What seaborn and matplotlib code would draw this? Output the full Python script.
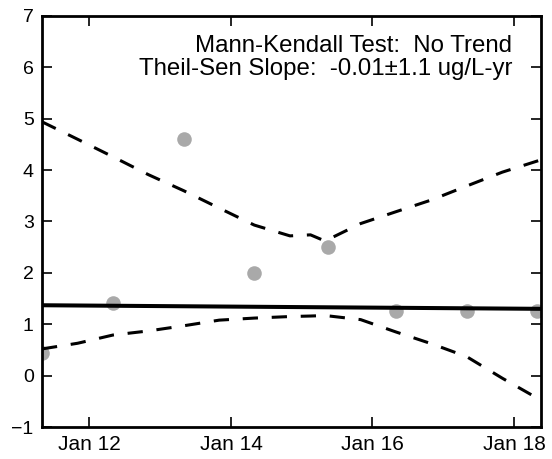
import pandas as pd
import matplotlib.pyplot as plt
import matplotlib.dates as mdates
import seaborn as sns

# Data
sample_dates = ['2011-05-01', '2012-05-01', '2013-05-01', '2014-05-01',
                '2015-05-15', '2016-05-01', '2017-05-01', '2018-05-01']
conc = [0.45, 1.41, 4.60, 2.00, 2.50, 1.25, 1.25, 1.25]

trend_dates = ['2011-05-01', '2018-05-20']
trend_vals = [1.37, 1.30]

band_dates = ['2011-05-01', '2011-11-01', '2012-05-01', '2012-11-01', '2013-05-01',
              '2013-11-01', '2014-05-01', '2014-11-01', '2015-02-15', '2015-05-01',
              '2015-11-01', '2016-05-01', '2016-11-01', '2017-05-01', '2017-11-01',
              '2018-05-20']
upper = [4.94, 4.60, 4.26, 3.91, 3.60, 3.26, 2.93, 2.72, 2.74, 2.62,
         2.96, 3.19, 3.42, 3.69, 3.96, 4.20]
lower = [0.52, 0.63, 0.79, 0.87, 0.97, 1.08, 1.12, 1.15, 1.16, 1.17,
         1.09, 0.85, 0.62, 0.37, -0.05, -0.48]

df = pd.DataFrame({'date': pd.to_datetime(sample_dates), 'conc': conc})
df_trend = pd.DataFrame({'date': pd.to_datetime(trend_dates), 'val': trend_vals})
df_band = pd.DataFrame({'date': pd.to_datetime(band_dates), 'upper': upper, 'lower': lower})

sns.set_style("ticks", {'axes.edgecolor': 'black', 'xtick.color': 'black',
                        'ytick.color': 'black', 'text.color': 'black'})
plt.rcParams['font.family'] = ['Liberation Sans', 'DejaVu Sans']

fig = plt.figure(figsize=(5.52, 4.59), dpi=100)
ax = fig.add_axes([0.0761, 0.0697, 0.904, 0.8955])

sns.scatterplot(data=df, x='date', y='conc', color='#a9a9a9', s=110,
                linewidth=0, ax=ax, zorder=2)
sns.lineplot(data=df_trend, x='date', y='val', color='black', linewidth=2.9, ax=ax, zorder=3)
for col in ['upper', 'lower']:
    sns.lineplot(data=df_band, x='date', y=col, color='black', linewidth=2.2,
                 linestyle=(0, (5, 4.5)), ax=ax, zorder=3)

ax.set_xlim(pd.Timestamp('2011-05-01'), pd.Timestamp('2018-05-20'))
ax.set_ylim(-1, 7)
ax.set_yticks(range(-1, 8))
ax.xaxis.set_major_locator(mdates.YearLocator(base=2, month=1, day=1))
ax.xaxis.set_major_formatter(mdates.DateFormatter('%b %y'))
ax.set_xlabel('')
ax.set_ylabel('')

ax.tick_params(direction='in', length=7, width=1.2, top=True, right=True, pad=6,
               colors='black')
ax.tick_params(axis='x', labelsize=15)
ax.tick_params(axis='y', labelsize=14)
for sp in ax.spines.values():
    sp.set_linewidth(2.0)
    sp.set_color('black')

ax.text(0.942, 0.913, 'Mann-Kendall Test:  No Trend', transform=ax.transAxes,
        ha='right', va='baseline', fontsize=17.3, color='black')
ax.text(0.942, 0.856, 'Theil-Sen Slope:  -0.01\u00b11.1 ug/L-yr', transform=ax.transAxes,
        ha='right', va='baseline', fontsize=17.3, color='black')

plt.savefig('out.png', dpi=100)
